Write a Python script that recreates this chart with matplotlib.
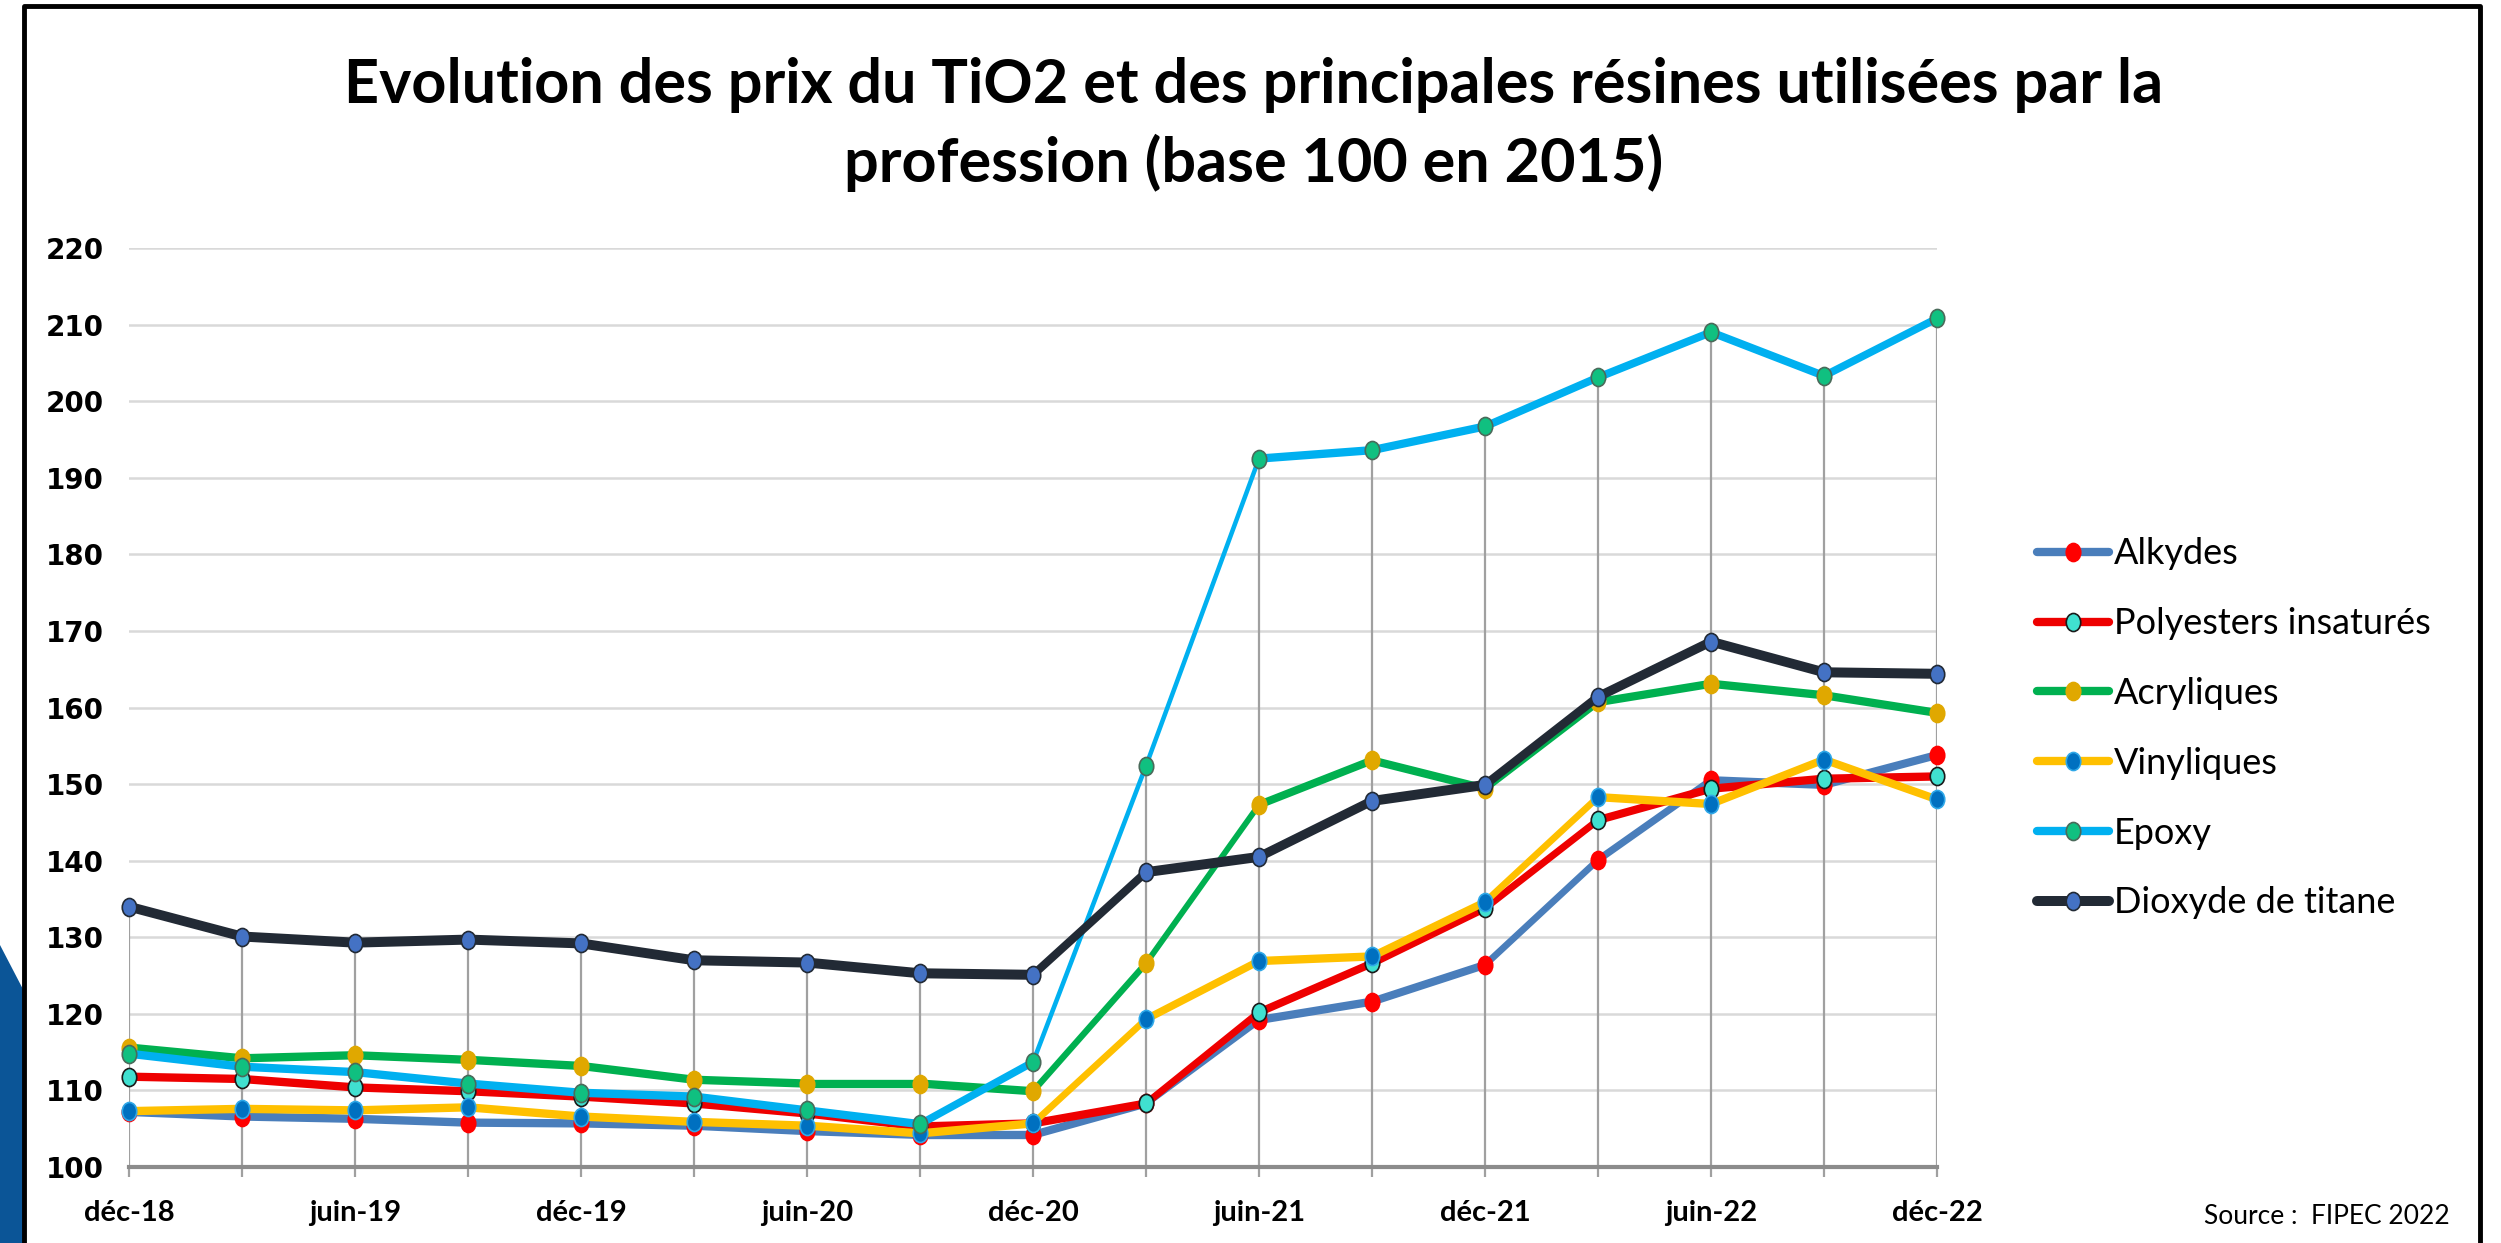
import numpy as np
import matplotlib
matplotlib.use('Agg')
from matplotlib import pyplot as plt
from matplotlib.collections import LineCollection
from matplotlib.lines import Line2D
from matplotlib.patches import Polygon
from matplotlib.path import Path
from matplotlib.transforms import Affine2D

# quarterly points, déc-18 -> déc-22
periods = ['déc-18', 'mars-19', 'juin-19', 'sept-19', 'déc-19', 'mars-20', 'juin-20',
           'sept-20', 'déc-20', 'mars-21', 'juin-21', 'sept-21', 'déc-21', 'mars-22',
           'juin-22', 'sept-22', 'déc-22']

alkydes = [107.2, 106.6, 106.3, 105.8, 105.7, 105.4, 104.7, 104.2, 104.2, 108.3,
           119.2, 121.6, 126.4, 140.1, 150.5, 149.9, 153.8]
polyesters = [111.8, 111.5, 110.4, 109.9, 109.2, 108.3, 107.0, 105.3, 105.7, 108.3,
              120.2, 126.6, 133.8, 145.3, 149.4, 150.7, 151.0]
acryliques = [115.6, 114.2, 114.6, 114.0, 113.2, 111.4, 110.9, 110.9, 109.9, 126.6,
              147.3, 153.1, 149.4, 160.7, 163.1, 161.6, 159.3]
vinyliques = [107.3, 107.6, 107.4, 107.8, 106.6, 105.9, 105.4, 104.4, 105.7, 119.3,
              126.9, 127.5, 134.6, 148.3, 147.4, 153.2, 148.0]
epoxy = [114.8, 113.1, 112.4, 110.9, 109.7, 109.2, 107.4, 105.6, 113.7, 152.4,
         192.5, 193.6, 196.7, 203.1, 209.0, 203.3, 210.8]
dioxyde = [134.0, 130.1, 129.3, 129.7, 129.2, 127.0, 126.7, 125.3, 125.1, 138.5,
           140.5, 147.8, 149.9, 161.4, 168.6, 164.6, 164.4]

# name, values, line colour, marker face, marker edge, line width
series = [
    ('Alkydes', alkydes, '#4A7EBB', '#FF0000', '#FF0000', 6.0),
    ('Polyesters insaturés', polyesters, '#EE0000', '#40E0D0', '#1A1A1A', 6.0),
    ('Acryliques', acryliques, '#00B050', '#E0A800', '#E0A800', 6.0),
    ('Vinyliques', vinyliques, '#FFC000', '#0070C0', '#2FA8E8', 6.0),
    ('Epoxy', epoxy, '#00B0F0', '#10C080', '#4A6A5A', 6.0),
    ('Dioxyde de titane', dioxyde, '#222A35', '#4472C4', '#222A35', 7.2),
]

ellipse = Path.unit_circle().transformed(Affine2D().scale(0.8, 1.0))


def draw_series(ax, x, y, color, lw, z):
    # steep segments look thinner in the original, thin them by their slope
    pts = ax.transData.transform(np.column_stack([x, y]))
    d = np.diff(pts, axis=0)
    cos_a = np.abs(d[:, 0]) / np.hypot(d[:, 0], d[:, 1])
    widths = lw * (0.3 + 0.7 * cos_a)
    segs = np.stack([np.column_stack([x[:-1], y[:-1]]),
                     np.column_stack([x[1:], y[1:]])], axis=1)
    lc = LineCollection(segs, colors=color, linewidths=widths,
                        capstyle='round', joinstyle='round', zorder=z, clip_on=False)
    ax.add_collection(lc)


def main():
    fig = plt.figure(figsize=(25.01, 12.43), dpi=100)
    ax = fig.add_axes([0.0516, 0.0611, 0.7229, 0.7394])
    x = np.arange(len(periods))
    ax.set_xlim(0, len(periods) - 1)
    ax.set_ylim(100, 220)

    ax.set_yticks(np.arange(100, 221, 10))
    ax.yaxis.grid(True, color='#D9D9D9', lw=1.8, zorder=0)
    ax.set_axisbelow(True)
    ax.tick_params(axis='y', length=0, pad=18, labelsize=20)
    for lab in ax.get_yticklabels():
        lab.set_fontfamily('DejaVu Sans')
        lab.set_fontweight('bold')

    # drop lines from the highest series to the axis
    top = np.max(np.array([s[1] for s in series]), axis=0)
    ax.vlines(x, 100, top, colors='#A0A0A0', lw=1.6, zorder=1)

    ax.set_xticks(x)
    ax.set_xticklabels([p if i % 2 == 0 else '' for i, p in enumerate(periods)],
                       fontfamily='Lato', fontweight='bold', fontsize=21)
    ax.tick_params(axis='x', direction='out', length=7, width=1.6,
                   color='#A0A0A0', pad=17)

    for side in ['top', 'right', 'left']:
        ax.spines[side].set_visible(False)
    ax.spines['bottom'].set_color('#8C8C8C')
    ax.spines['bottom'].set_linewidth(3)
    ax.spines['bottom'].set_zorder(2)

    handles = []
    for k, (name, vals, lc, mfc, mec, lw) in enumerate(series):
        vals = np.array(vals)
        draw_series(ax, x, vals, lc, lw, 3 + k)
        ax.plot(x, vals, ls='none', marker=ellipse, ms=13, mfc=mfc, mec=mec,
                mew=1.2, zorder=3.5 + k, clip_on=False)
        handles.append(Line2D([], [], color=lc, lw=lw, solid_capstyle='round',
                              marker=ellipse, ms=13, mfc=mfc, mec=mec, mew=1.2,
                              label=name))

    fig.legend(handles=handles, loc='center left', bbox_to_anchor=(0.8145, 0.414),
               frameon=False, prop={'family': 'Lato', 'size': 26},
               handlelength=2.0, handletextpad=0.12, labelspacing=1.02,
               borderpad=0, borderaxespad=0)

    fig.text(0.5014, 0.9,
             'Evolution des prix du TiO2 et des principales résines utilisées par la\n'
             'profession (base 100 en 2015)',
             ha='center', va='center', fontfamily='Lato', fontweight='bold',
             fontsize=44, linespacing=1.42)

    fig.text(0.9795, 0.021, 'Source :  FIPEC 2022', ha='right', va='center',
             fontfamily='Lato', fontsize=19)

    # slide decoration and frame
    W, H = 2501, 1243
    fig.add_artist(Polygon([(0, 1 - 945 / H), (26 / W, 1 - 995 / H), (26 / W, 0), (0, 0)],
                           closed=True, transform=fig.transFigure,
                           facecolor='#0B5597', edgecolor='none'))
    fx = [24 / W, 24 / W, 2480 / W, 2480 / W]
    fy = [0, 1 - 6 / H, 1 - 6 / H, 0]
    fig.add_artist(Line2D(fx, fy, transform=fig.transFigure, color='black', lw=3.5))

    fig.savefig('out.png', dpi=100)


if __name__ == '__main__':
    main()
